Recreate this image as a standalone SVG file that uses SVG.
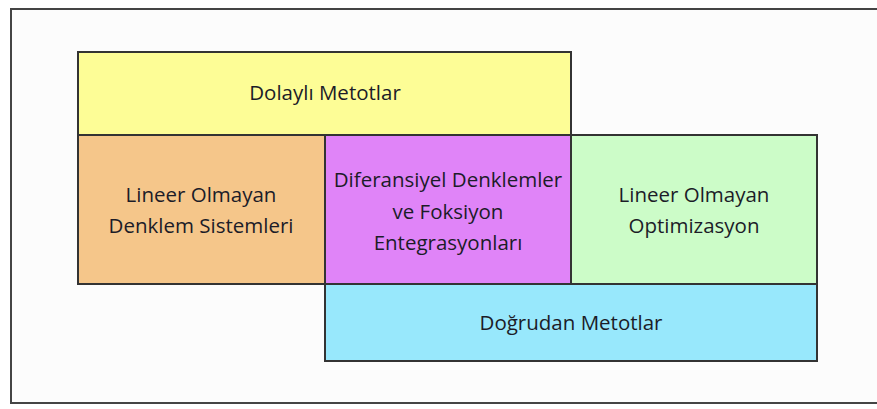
<svg xmlns="http://www.w3.org/2000/svg" width="877" height="409" viewBox="0 0 877 409">
<style>
.box{stroke:#333;stroke-width:2}
.t{font-family:"Open Sans","Liberation Sans",sans-serif;font-size:20.5px;fill:#1c1c28;text-anchor:middle}
</style>
<rect width="877" height="409" fill="#fff"/>
<rect x="11" y="9" width="880" height="394" fill="#fcfcfc" stroke="#444" stroke-width="2"/>
<g id="dolayli">
<rect class="box" x="78" y="52" width="493" height="83" fill="#fdfd96"/>
<text class="t" x="325" y="100">Dolaylı Metotlar</text>
</g>
<g id="lineer-denklem">
<rect class="box" x="78" y="135" width="247" height="149" fill="#f5c68a"/>
<text class="t" x="201" y="202">Lineer Olmayan</text>
<text class="t" x="201" y="233">Denklem Sistemleri</text>
</g>
<g id="diferansiyel">
<rect class="box" x="325" y="135" width="246" height="149" fill="#e084f8"/>
<text class="t" x="448" y="187">Diferansiyel Denklemler</text>
<text class="t" x="448" y="219">ve Foksiyon</text>
<text class="t" x="448" y="250">Entegrasyonları</text>
</g>
<g id="lineer-optimizasyon">
<rect class="box" x="571" y="135" width="246" height="149" fill="#ccfcc8"/>
<text class="t" x="694" y="202">Lineer Olmayan</text>
<text class="t" x="694" y="233">Optimizasyon</text>
</g>
<g id="dogrudan">
<rect class="box" x="325" y="284" width="492" height="77" fill="#98e8fc"/>
<text class="t" x="571" y="330">Doğrudan Metotlar</text>
</g>
<g id="connectors"></g>
</svg>
